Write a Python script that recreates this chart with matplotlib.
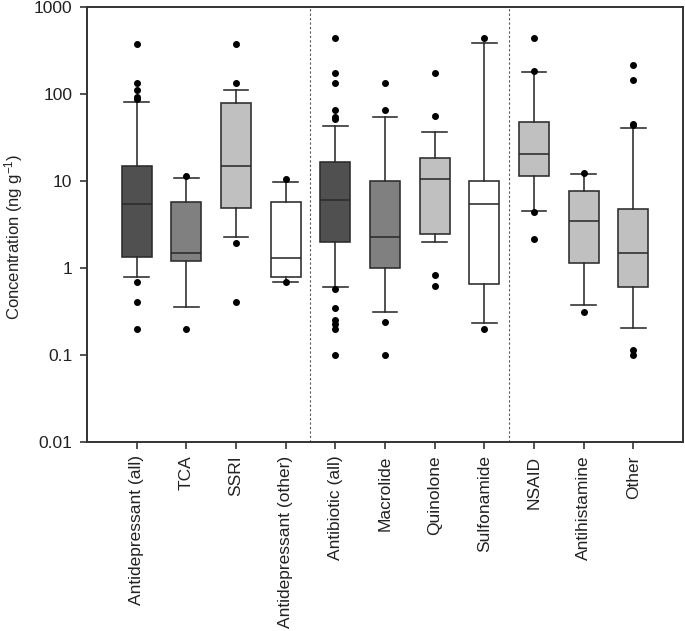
import matplotlib
matplotlib.use("Agg")
import matplotlib.pyplot as plt

plt.rcParams['font.family'] = ['Liberation Sans', 'DejaVu Sans']
plt.rcParams['mathtext.fontset'] = 'custom'
plt.rcParams['mathtext.rm'] = 'Liberation Sans'
plt.rcParams['mathtext.it'] = 'Liberation Sans:italic'
plt.rcParams['mathtext.bf'] = 'Liberation Sans:bold'

categories = ["Antidepressant (all)", "TCA", "SSRI", "Antidepressant (other)",
              "Antibiotic (all)", "Macrolide", "Quinolone", "Sulfonamide",
              "NSAID", "Antihistamine", "Other"]
whislo = [0.79, 0.353, 2.29, 0.70, 0.60, 0.31, 2.01, 0.235, 4.49, 0.378, 0.206]
q1     = [1.35, 1.21, 4.9, 0.79, 2.01, 1.0, 2.44, 0.655, 11.5, 1.14, 0.60]
med    = [5.5, 1.48, 15.0, 1.31, 6.0, 2.29, 10.5, 5.45, 20.3, 3.45, 1.49]
q3     = [15.0, 5.8, 78.5, 5.8, 16.6, 10.0, 18.3, 10.0, 47.5, 7.8, 4.77]
whishi = [82, 10.8, 112, 9.8, 43.4, 54.7, 36.5, 385, 180, 12.0, 41]
fliers = [
    [375, 133, 112, 93, 88, 0.70, 0.41, 0.20],
    [11.5, 0.20],
    [375, 133, 1.95, 0.41],
    [10.5, 0.69],
    [447, 174, 135, 65.8, 54.7, 52, 0.57, 0.344, 0.25, 0.23, 0.20, 0.10],
    [135, 65.8, 0.237, 0.10],
    [174, 55.6, 0.83, 0.625],
    [447, 0.20],
    [447, 186, 4.4, 2.16],
    [12.4, 0.31],
    [215, 145, 46, 44, 0.114, 0.10],
]
colors = ["#505050", "#808080", "#c0c0c0", "#ffffff",
          "#505050", "#808080", "#c0c0c0", "#ffffff",
          "#c0c0c0", "#c0c0c0", "#c0c0c0"]
separators = [4.5, 8.5]

fig = plt.figure(figsize=(6.85, 6.31), dpi=100)
ax = fig.add_axes([0.127, 0.2995, 0.870, 0.689])

stats = []
for i in range(len(categories)):
    stats.append(dict(med=med[i], q1=q1[i], q3=q3[i], whislo=whislo[i],
                      whishi=whishi[i], fliers=fliers[i], label=categories[i]))

edge = "#2b2b2b"
lw = 1.15
positions = list(range(1, len(categories) + 1))
bp = ax.bxp(stats, positions=positions, widths=0.6, patch_artist=True,
            showfliers=True,
            boxprops=dict(edgecolor=edge, linewidth=lw),
            medianprops=dict(color=edge, linewidth=lw),
            whiskerprops=dict(color=edge, linewidth=lw),
            capprops=dict(color=edge, linewidth=lw),
            capwidths=0.5,
            flierprops=dict(marker='o', markerfacecolor='black', markeredgecolor='black',
                            markersize=4, linestyle='none'))
for patch, c in zip(bp['boxes'], colors):
    patch.set_facecolor(c)

for s in separators:
    ax.axvline(s, color="#555555", linestyle=(0, (2, 2)), linewidth=0.8)

ax.set_yscale('log')
ax.set_ylim(0.01, 1000)
ax.set_xlim(0, 12)
ax.set_yticks([0.01, 0.1, 1, 10, 100, 1000])
ax.set_yticklabels(["0.01", "0.1", "1", "10", "100", "1000"])
ax.yaxis.set_minor_locator(matplotlib.ticker.NullLocator())
ax.set_xticks(positions)
ax.set_xticklabels(categories, rotation=90)
ax.tick_params(axis='both', direction='out', length=4.7, width=1.2, color="#333333",
               labelsize=12.5, labelcolor="#222222")
ax.tick_params(axis='y', pad=6)
ax.tick_params(axis='x', pad=5)
for sp in ax.spines.values():
    sp.set_color("#333333")
    sp.set_linewidth(1.4)
ax.set_ylabel("Concentration (ng g$^{-1}$)", fontsize=12, color="#222222")
ax.yaxis.set_label_coords(-0.104, 0.472)

fig.savefig("out.png", dpi=100)
